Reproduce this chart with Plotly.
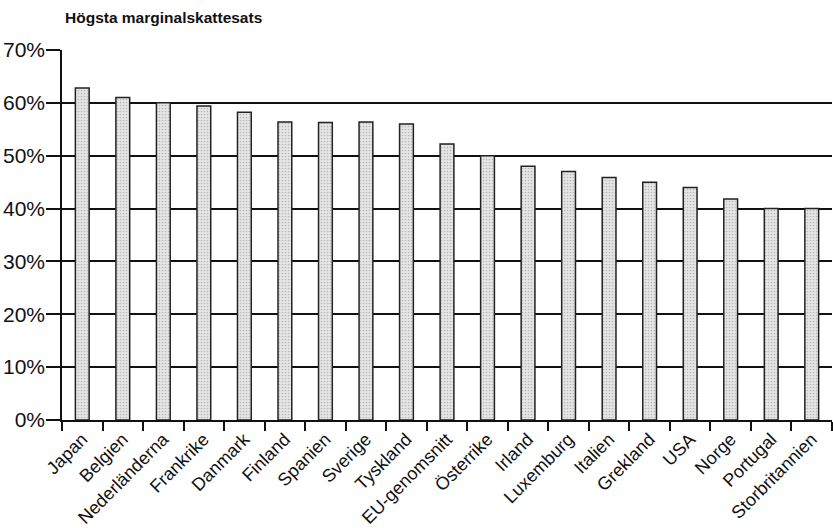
import plotly.graph_objects as go

countries = ["Japan", "Belgien", "Nederländerna", "Frankrike", "Danmark", "Finland",
             "Spanien", "Sverige", "Tyskland", "EU-genomsnitt", "Österrike", "Irland",
             "Luxemburg", "Italien", "Grekland", "USA", "Norge", "Portugal", "Storbritannien"]
rates = [62.8, 61.0, 60.0, 59.4, 58.2, 56.4, 56.3, 56.4, 56.0, 52.2, 50.0, 48.0,
         47.0, 45.9, 45.0, 44.0, 41.8, 40.0, 40.0]
y_ticks = [0, 10, 20, 30, 40, 50, 60, 70]
y_tick_labels = [f"{v}%" for v in y_ticks]
title_text = "Högsta marginalskattesats"

FONT = "Liberation Sans, Arial, Helvetica, sans-serif"
W, H = 833, 528

fig = go.Figure()
fig.add_trace(go.Bar(
    x=countries, y=rates, width=0.34,
    marker=dict(
        color="#e4e4e4",
        line=dict(color="#222222", width=1.5),
        pattern=dict(shape=".", fgcolor="#8a8a8a", bgcolor="#e6e6e6", size=3, solidity=0.25),
    ),
    hoverinfo="x+y",
))

fig.update_layout(
    width=W, height=H,
    margin=dict(l=62, r=1, t=50, b=108, autoexpand=False),
    paper_bgcolor="white", plot_bgcolor="white",
    showlegend=False,
    font=dict(family=FONT, color="#111111"),
    title=dict(text=f"<b>{title_text}</b>", x=65/W, xref="container", xanchor="left",
               y=1 - 18/H, yref="container", yanchor="middle",
               font=dict(size=15.5, family=FONT, color="#111111")),
    bargap=0.66,
)
fig.update_xaxes(
    showline=True, linecolor="#111111", linewidth=1.5,
    ticks="outside", tickson="boundaries", ticklen=9, tickwidth=1.5, tickcolor="#111111",
    tickangle=-45, tickfont=dict(size=18, family=FONT, color="#111111"),
    showgrid=False, range=[-0.5, 18.5],
)
fig.update_yaxes(
    range=[0, 70], tickvals=y_ticks, ticktext=y_tick_labels,
    showline=True, linecolor="#111111", linewidth=1.5,
    ticks="outside", ticklen=14, tickwidth=1.5, tickcolor="#111111",
    ticklabelstandoff=-3,
    tickfont=dict(size=21, family=FONT, color="#111111"),
    showgrid=True, gridcolor="#111111", gridwidth=1.5,
    zeroline=False,
)

# remove the browser's default 8px page margin so the figure fills the window
fig.write_html("out.html", config={"displayModeBar": False},
               post_script="document.body.style.margin='0';")
